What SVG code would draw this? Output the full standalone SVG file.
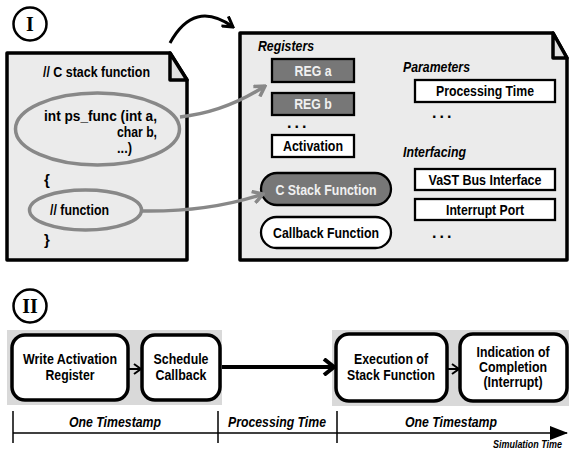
<svg xmlns="http://www.w3.org/2000/svg" width="569" height="455" viewBox="0 0 569 455">
<defs>
<style>
.t{font-family:"Liberation Sans",Arial,sans-serif;font-weight:bold;font-size:15px;fill:#000}
.c{text-anchor:middle}
.i{font-style:italic}
.w{fill:#f0f0f0}
.doc{fill:#ebebeb;stroke:#000;stroke-width:3.5;stroke-linejoin:round}
.fold{fill:#e0e0e0;stroke:#000;stroke-width:3.5;stroke-linejoin:round}
.box{fill:#fff;stroke:#000;stroke-width:2.3}
.dark{fill:#777;stroke:#000;stroke-width:2.3}
.step{fill:#fff;stroke:#000;stroke-width:3.5}
.ell{fill:none;stroke:#888;stroke-width:3.5}
.num{fill:#fff;stroke:#000;stroke-width:2.5}
.rn{font-family:"Liberation Serif","Times New Roman",serif;font-weight:bold;font-size:20px;text-anchor:middle}
.dots{font-family:"Liberation Sans",Arial,sans-serif;font-weight:bold;font-size:16px;letter-spacing:3px}
</style>
<marker id="vBlack" viewBox="0 0 14 14" refX="12" refY="7" markerWidth="14" markerHeight="14" orient="auto" markerUnits="userSpaceOnUse"><path d="M2,1 L12,7 L2,13" fill="none" stroke="#000" stroke-width="3"/></marker>
<marker id="vGray" viewBox="0 0 14 14" refX="12" refY="7" markerWidth="14" markerHeight="14" orient="auto" markerUnits="userSpaceOnUse"><path d="M2,1 L12,7 L2,13" fill="none" stroke="#888" stroke-width="3.5"/></marker>
<marker id="vSmall" viewBox="0 0 10 12" refX="9" refY="6" markerWidth="10" markerHeight="12" orient="auto" markerUnits="userSpaceOnUse"><path d="M2,1 L9,6 L2,11" fill="none" stroke="#000" stroke-width="2"/></marker>
<marker id="vBig" viewBox="0 0 14 18" refX="12" refY="9" markerWidth="14" markerHeight="18" orient="auto" markerUnits="userSpaceOnUse"><path d="M2,1 L12,9 L2,17" fill="none" stroke="#000" stroke-width="4"/></marker>
<marker id="tri" viewBox="0 0 18 14" refX="17" refY="7" markerWidth="18" markerHeight="14" orient="auto" markerUnits="userSpaceOnUse"><path d="M0,0 L18,7 L0,14 Z" fill="#000"/></marker>
</defs>

<g id="label-I"><circle class="num" cx="30" cy="24" r="16.5"/><text class="rn" x="30" y="31">I</text></g>

<g id="c-code">
<path class="doc" d="M7,53 L170,53 L187,80 L187,260 L7,260 Z"/>
<path class="fold" d="M170,53 L170,80 L187,80 Z"/>
<text class="t" x="43" y="77" textLength="107" lengthAdjust="spacingAndGlyphs">// C stack function</text>
<text class="t" x="44" y="121" textLength="113" lengthAdjust="spacingAndGlyphs">int ps_func (int a,</text>
<text class="t" x="117" y="137" textLength="40" lengthAdjust="spacingAndGlyphs">char b,</text>
<text class="t" x="117" y="153" textLength="15" lengthAdjust="spacingAndGlyphs">...)</text>
<text class="t" x="44" y="185">{</text>
<text class="t" x="50" y="215" textLength="59" lengthAdjust="spacingAndGlyphs">// function</text>
<text class="t" x="44" y="245">}</text>
</g>
<g id="sig-ellipse"><ellipse class="ell" cx="97.5" cy="129" rx="82" ry="36"/></g>
<g id="body-ellipse"><ellipse class="ell" cx="85.5" cy="210" rx="56" ry="20"/></g>

<g id="model">
<path class="doc" d="M240,33 L553,33 L567,58 L567,260 L240,260 Z"/>
<path class="fold" d="M553,33 L553,58 L567,58 Z"/>
<text class="t i" x="258" y="51" textLength="56" lengthAdjust="spacingAndGlyphs">Registers</text>
<text class="t i" x="403" y="72" textLength="67" lengthAdjust="spacingAndGlyphs">Parameters</text>
<text class="t i" x="403" y="157" textLength="63" lengthAdjust="spacingAndGlyphs">Interfacing</text>
<text class="dots" x="287" y="128">...</text>
<text class="dots" x="432" y="118">...</text>
<text class="dots" x="432" y="238">...</text>
</g>
<g id="reg-a"><rect class="dark" x="272" y="59" width="82" height="23"/><text class="t c w" x="313" y="76" textLength="37" lengthAdjust="spacingAndGlyphs">REG a</text></g>
<g id="reg-b"><rect class="dark" x="272" y="93" width="82" height="22"/><text class="t c w" x="313" y="109" textLength="37.6" lengthAdjust="spacingAndGlyphs">REG b</text></g>
<g id="activation"><rect class="box" x="272" y="135" width="82" height="22"/><text class="t c" x="313" y="151" textLength="60" lengthAdjust="spacingAndGlyphs">Activation</text></g>
<g id="c-stack-function"><rect class="dark" x="261" y="173" width="130" height="32" rx="16"/><text class="t c w" x="326" y="194.5" textLength="101" lengthAdjust="spacingAndGlyphs">C Stack Function</text></g>
<g id="callback-function"><rect class="box" x="261" y="217" width="130" height="31" rx="15.5"/><text class="t c" x="326" y="238" textLength="106" lengthAdjust="spacingAndGlyphs">Callback Function</text></g>
<g id="processing-time"><rect class="box" x="415" y="80" width="140" height="22"/><text class="t c" x="485" y="96" textLength="98" lengthAdjust="spacingAndGlyphs">Processing Time</text></g>
<g id="vast-bus"><rect class="box" x="415" y="169" width="140" height="21"/><text class="t c" x="485" y="185" textLength="113" lengthAdjust="spacingAndGlyphs">VaST Bus Interface</text></g>
<g id="interrupt-port"><rect class="box" x="415" y="199" width="140" height="21"/><text class="t c" x="485" y="215" textLength="78" lengthAdjust="spacingAndGlyphs">Interrupt Port</text></g>

<g id="label-II"><circle class="num" cx="30" cy="306" r="16.5"/><text class="rn" x="30" y="313">II</text></g>

<g id="phase1"><rect x="7" y="330" width="215" height="75" fill="#d9d9d9"/></g>
<g id="phase2"><rect x="332" y="330" width="237" height="76" fill="#d9d9d9"/></g>
<g id="write-activation"><rect class="step" x="12" y="335" width="116" height="65" rx="13"/><text class="t c" x="70" y="364" textLength="94" lengthAdjust="spacingAndGlyphs">Write Activation</text><text class="t c" x="70" y="380" textLength="49" lengthAdjust="spacingAndGlyphs">Register</text></g>
<g id="schedule-callback"><rect class="step" x="142" y="335" width="78" height="65" rx="13"/><text class="t c" x="181" y="364" textLength="55" lengthAdjust="spacingAndGlyphs">Schedule</text><text class="t c" x="181" y="380" textLength="51" lengthAdjust="spacingAndGlyphs">Callback</text></g>
<g id="execution"><rect class="step" x="336" y="334" width="111" height="67" rx="13"/><text class="t c" x="391" y="364" textLength="74" lengthAdjust="spacingAndGlyphs">Execution of</text><text class="t c" x="391" y="380" textLength="88" lengthAdjust="spacingAndGlyphs">Stack Function</text></g>
<g id="indication"><rect class="step" x="460" y="334" width="107" height="67" rx="13"/><text class="t c" x="513" y="357" style="font-size:14.5px" textLength="73" lengthAdjust="spacingAndGlyphs">Indication of</text><text class="t c" x="513" y="372" style="font-size:14.5px" textLength="68" lengthAdjust="spacingAndGlyphs">Completion</text><text class="t c" x="513" y="387" style="font-size:14.5px" textLength="59" lengthAdjust="spacingAndGlyphs">(Interrupt)</text></g>

<g id="timeline">
<line x1="13" y1="433" x2="567" y2="433" stroke="#000" stroke-width="1.5" marker-end="url(#tri)"/>
<line x1="13" y1="411" x2="13" y2="443" stroke="#000" stroke-width="1.5"/>
<line x1="218" y1="411" x2="218" y2="443" stroke="#000" stroke-width="1.5"/>
<line x1="337" y1="411" x2="337" y2="443" stroke="#000" stroke-width="1.5"/>
<text class="t c i" x="115" y="427" textLength="92" lengthAdjust="spacingAndGlyphs">One Timestamp</text>
<text class="t c i" x="277" y="427" textLength="98" lengthAdjust="spacingAndGlyphs">Processing Time</text>
<text class="t c i" x="451" y="427" textLength="92" lengthAdjust="spacingAndGlyphs">One Timestamp</text>
<text class="t i" x="562" y="448" style="font-size:11px;text-anchor:end" textLength="69" lengthAdjust="spacingAndGlyphs">Simulation Time</text>
</g>

<g id="connectors">
<path d="M170,43 Q194,-1 233,27" fill="none" stroke="#000" stroke-width="3" marker-end="url(#vBlack)"/>
<path d="M180,117 Q225,112 265,86" fill="none" stroke="#888" stroke-width="3.5" marker-end="url(#vGray)"/>
<path d="M142,211 Q210,212 263,194" fill="none" stroke="#888" stroke-width="3.5" marker-end="url(#vGray)"/>
<line x1="128" y1="369" x2="141" y2="369" stroke="#000" stroke-width="2" marker-end="url(#vSmall)"/>
<line x1="222" y1="367" x2="334" y2="367" stroke="#000" stroke-width="4" marker-end="url(#vBig)"/>
<line x1="447" y1="369" x2="459" y2="369" stroke="#000" stroke-width="2" marker-end="url(#vSmall)"/>
</g>
</svg>
